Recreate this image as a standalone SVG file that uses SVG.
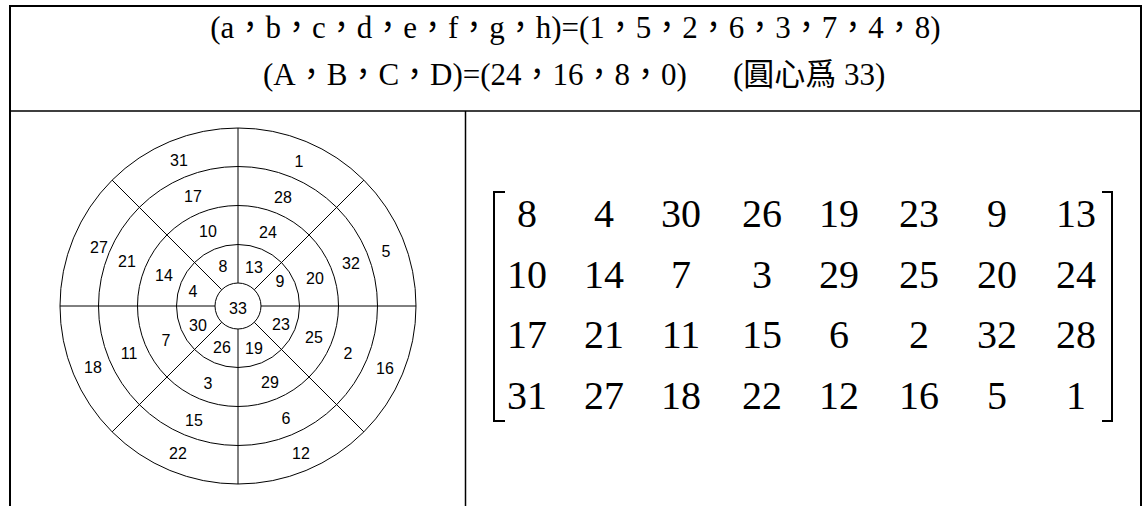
<svg xmlns="http://www.w3.org/2000/svg" width="1144" height="506" viewBox="0 0 1144 506">
<style>
.hdr{font-family:"Liberation Serif","Noto Sans CJK TC",serif;font-size:31px;fill:#000}
.lbl{font-family:"Liberation Sans",Arial,sans-serif;font-size:16px;fill:#000;text-anchor:middle}
.mx{font-family:"Liberation Serif","Times New Roman",serif;font-size:40px;fill:#000;text-anchor:middle}
.ln{stroke:#000;stroke-width:1;fill:none}
.tb{stroke:#000;fill:none}
</style>
<rect x="0" y="0" width="1144" height="506" fill="#fff"/>
<g id="table">
<path class="tb" stroke-width="2" d="M10,506 V6 H1141 V506"/>
<path class="tb" stroke-width="1.5" d="M10,111 H1141 M465.5,111 V506"/>
</g>
<g id="header">
<text class="hdr" x="575.5" y="38" text-anchor="middle">(a，b，c，d，e，f，g，h)=(1，5，2，6，3，7，4，8)</text>
<text class="hdr" x="263" y="85">(A，B，C，D)=(24，16，8，0)</text>
<text class="hdr" x="733" y="85">(圓心爲 33)</text>
</g>
<g id="wheel">
<circle class="ln" cx="238" cy="306" r="23"/>
<circle class="ln" cx="238" cy="306" r="61.5"/>
<circle class="ln" cx="238" cy="306" r="100.5"/>
<circle class="ln" cx="238" cy="306" r="139.5"/>
<circle class="ln" cx="238" cy="306" r="178"/>
<path class="ln" d="M238,283 V128 M238,329 V484 M215,306 H60 M261,306 H416 M221.7,289.7 L112.1,180.1 M254.3,289.7 L363.9,180.1 M221.7,322.3 L112.1,431.9 M254.3,322.3 L363.9,431.9"/>
<text class="lbl" x="179" y="166">31</text>
<text class="lbl" x="193" y="202">17</text>
<text class="lbl" x="208" y="237">10</text>
<text class="lbl" x="223" y="272">8</text>
<text class="lbl" x="99" y="253">27</text>
<text class="lbl" x="127" y="267">21</text>
<text class="lbl" x="164" y="281">14</text>
<text class="lbl" x="193" y="297">4</text>
<text class="lbl" x="299" y="167">1</text>
<text class="lbl" x="283" y="203">28</text>
<text class="lbl" x="268" y="238">24</text>
<text class="lbl" x="254" y="273">13</text>
<text class="lbl" x="386" y="257">5</text>
<text class="lbl" x="351" y="269">32</text>
<text class="lbl" x="315" y="284">20</text>
<text class="lbl" x="280" y="287">9</text>
<text class="lbl" x="238" y="314">33</text>
<text class="lbl" x="198" y="331">30</text>
<text class="lbl" x="222" y="353">26</text>
<text class="lbl" x="166" y="346">7</text>
<text class="lbl" x="129" y="359">11</text>
<text class="lbl" x="93" y="373">18</text>
<text class="lbl" x="208" y="389">3</text>
<text class="lbl" x="194" y="426">15</text>
<text class="lbl" x="178" y="459">22</text>
<text class="lbl" x="281" y="330">23</text>
<text class="lbl" x="254" y="354">19</text>
<text class="lbl" x="314" y="343">25</text>
<text class="lbl" x="348" y="359">2</text>
<text class="lbl" x="385" y="374">16</text>
<text class="lbl" x="270" y="388">29</text>
<text class="lbl" x="286" y="424">6</text>
<text class="lbl" x="301" y="459">12</text>
</g>
<g id="matrix">
<path class="tb" stroke-width="2" d="M505,192 H494 V421 H505 M1102,192 H1112 V421 H1102"/>
<g>
<text class="mx" x="527" y="227">8</text><text class="mx" x="604" y="227">4</text><text class="mx" x="681" y="227">30</text><text class="mx" x="762" y="227">26</text><text class="mx" x="839" y="227">19</text><text class="mx" x="919" y="227">23</text><text class="mx" x="997" y="227">9</text><text class="mx" x="1076" y="227">13</text>
<text class="mx" x="527" y="288">10</text><text class="mx" x="604" y="288">14</text><text class="mx" x="681" y="288">7</text><text class="mx" x="762" y="288">3</text><text class="mx" x="839" y="288">29</text><text class="mx" x="919" y="288">25</text><text class="mx" x="997" y="288">20</text><text class="mx" x="1076" y="288">24</text>
<text class="mx" x="527" y="348">17</text><text class="mx" x="604" y="348">21</text><text class="mx" x="681" y="348">11</text><text class="mx" x="762" y="348">15</text><text class="mx" x="839" y="348">6</text><text class="mx" x="919" y="348">2</text><text class="mx" x="997" y="348">32</text><text class="mx" x="1076" y="348">28</text>
<text class="mx" x="527" y="409">31</text><text class="mx" x="604" y="409">27</text><text class="mx" x="681" y="409">18</text><text class="mx" x="762" y="409">22</text><text class="mx" x="839" y="409">12</text><text class="mx" x="919" y="409">16</text><text class="mx" x="997" y="409">5</text><text class="mx" x="1076" y="409">1</text>
</g>
</g>
</svg>
